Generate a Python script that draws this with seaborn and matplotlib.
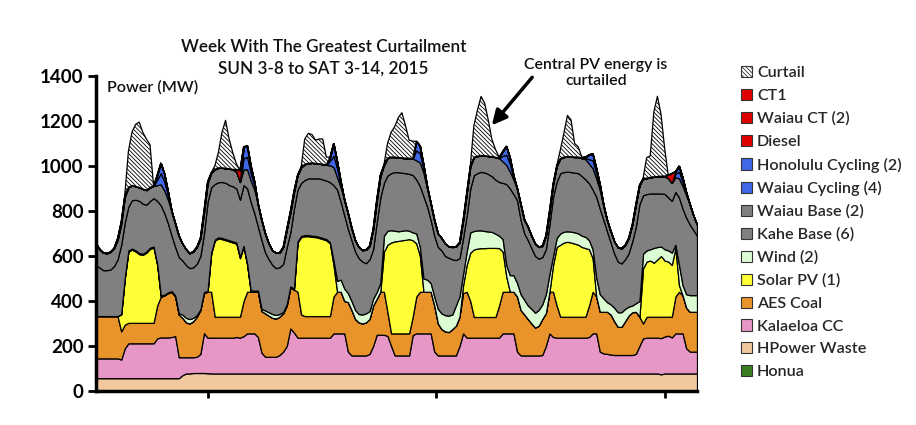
import numpy as np
import pandas as pd
import seaborn as sns
from matplotlib import pyplot as plt
from matplotlib.patches import Patch

# Hourly generation (MW), Sun 3-8 00:00 to Sat 3-14 23:00, one row per day
honua = [0] * 168

hpower_waste = [
    57, 57, 57, 57, 57, 57, 57, 57, 57, 57, 57, 57, 57, 57, 57, 57, 57, 57, 57, 57, 57, 57, 57, 57,
    70, 78, 78, 80, 80, 80, 80, 79, 78, 78, 78, 78, 78, 78, 78, 78, 78, 78, 78, 78, 78, 78, 78, 78,
    78, 78, 78, 78, 78, 78, 78, 78, 78, 78, 78, 78, 78, 78, 78, 78, 78, 78, 78, 78, 78, 78, 78, 78,
    78, 78, 78, 78, 78, 78, 78, 78, 78, 78, 78, 78, 78, 78, 78, 78, 78, 78, 78, 78, 78, 78, 78, 78,
    78, 78, 78, 78, 78, 78, 78, 78, 78, 78, 78, 78, 78, 78, 78, 78, 78, 78, 78, 78, 78, 78, 78, 78,
    78, 78, 78, 78, 78, 78, 78, 78, 78, 78, 78, 78, 78, 78, 78, 78, 78, 78, 78, 78, 78, 78, 78, 78,
    78, 78, 78, 78, 78, 78, 78, 78, 78, 78, 78, 78, 78, 74, 78, 78, 78, 78, 78, 78, 78, 78, 78, 78,
]

kalaeloa_cc = [
    88, 88, 88, 88, 88, 88, 88, 83, 133, 155, 155, 155, 155, 155, 155, 155, 155, 177, 181, 181, 181, 183, 187, 93,
    80, 72, 72, 70, 72, 85, 177, 158, 159, 159, 159, 159, 159, 159, 159, 162, 159, 166, 178, 178, 178, 162, 92, 74,
    74, 74, 74, 82, 97, 122, 200, 182, 159, 159, 159, 159, 159, 159, 159, 159, 159, 159, 178, 178, 178, 178, 97, 80,
    80, 80, 80, 80, 87, 122, 172, 172, 172, 167, 122, 80, 80, 80, 80, 80, 171, 178, 178, 178, 178, 178, 97, 80,
    80, 80, 80, 80, 80, 122, 178, 159, 159, 159, 159, 159, 159, 159, 159, 159, 159, 178, 178, 178, 178, 97, 80, 80,
    80, 80, 80, 80, 82, 122, 178, 162, 159, 159, 159, 159, 159, 159, 159, 159, 159, 162, 178, 178, 97, 89, 87, 84,
    82, 82, 82, 82, 82, 82, 87, 122, 156, 159, 159, 159, 159, 161, 164, 168, 160, 178, 178, 178, 112, 97, 97, 97,
]

aes_coal = [
    188, 188, 188, 188, 188, 188, 188, 125, 105, 91, 91, 91, 91, 91, 91, 91, 91, 146, 181, 187, 197, 201, 176, 190,
    175, 155, 150, 160, 178, 195, 180, 204, 204, 93, 93, 93, 93, 93, 93, 90, 93, 156, 185, 185, 185, 201, 185, 193,
    183, 173, 170, 170, 170, 180, 182, 190, 204, 103, 96, 96, 96, 96, 96, 96, 96, 96, 164, 185, 185, 144, 220, 202,
    162, 147, 142, 147, 155, 180, 160, 191, 191, 105, 56, 98, 98, 98, 98, 98, 81, 164, 185, 185, 185, 185, 205, 142,
    117, 107, 104, 117, 132, 130, 179, 204, 163, 92, 92, 92, 92, 92, 92, 92, 143, 185, 185, 185, 185, 245, 202, 182,
    162, 142, 124, 132, 160, 146, 185, 201, 143, 93, 93, 93, 93, 93, 93, 93, 93, 140, 185, 164, 177, 185, 187, 178,
    150, 125, 125, 150, 175, 190, 187, 130, 66, 93, 93, 93, 93, 95, 88, 84, 92, 164, 185, 169, 180, 177, 177, 177,
]

solar_pv = [
    0, 0, 0, 0, 0, 0, 0, 75, 205, 317, 325, 317, 305, 302, 312, 329, 334, 180, 0, 0, 0, 0, 0, 0,
    0, 0, 0, 0, 0, 0, 0, 0, 169, 338, 348, 345, 340, 335, 330, 325, 260, 240, 119, 0, 0, 0, 0, 0,
    0, 0, 0, 0, 0, 0, 0, 0, 219, 344, 355, 355, 352, 351, 347, 342, 337, 323, 140, 0, 0, 0, 0, 0,
    0, 0, 0, 0, 0, 0, 0, 0, 179, 300, 404, 409, 411, 414, 416, 419, 340, 236, 159, 0, 0, 0, 0, 0,
    0, 0, 0, 0, 0, 0, 35, 119, 215, 300, 304, 306, 306, 307, 307, 307, 255, 179, 69, 0, 0, 0, 0, 0,
    0, 0, 0, 0, 0, 0, 0, 119, 260, 320, 330, 333, 330, 325, 320, 310, 305, 250, 149, 0, 0, 0, 0, 0,
    0, 0, 0, 0, 0, 0, 0, 0, 245, 245, 250, 240, 255, 270, 250, 245, 230, 215, 29, 0, 0, 0, 0, 0,
]

wind = [
    0, 0, 0, 0, 0, 0, 0, 2, 5, 5, 5, 5, 5, 5, 5, 5, 5, 5, 5, 3, 3, 3, 5, 5,
    15, 20, 20, 15, 7, 3, 3, 3, 5, 5, 5, 5, 5, 5, 5, 5, 5, 5, 5, 5, 5, 5, 10, 13,
    15, 17, 16, 12, 7, 5, 5, 5, 5, 5, 5, 5, 5, 5, 5, 5, 5, 5, 20, 49, 54, 55, 40, 40,
    40, 37, 40, 40, 35, 30, 30, 39, 70, 62, 55, 47, 43, 42, 43, 37, 35, 44, 40, 59, 54, 39, 40, 65,
    70, 72, 73, 65, 90, 90, 50, 60, 90, 82, 81, 79, 76, 73, 71, 63, 55, 55, 50, 74, 74, 60, 70, 65,
    60, 65, 66, 70, 65, 84, 79, 40, 40, 50, 48, 47, 48, 50, 50, 50, 50, 40, 40, 85, 78, 60, 43, 45,
    60, 65, 65, 55, 40, 30, 38, 70, 65, 50, 50, 66, 55, 42, 50, 50, 55, 15, 90, 45, 60, 74, 74, 74,
]

kahe_base = [
    227, 215, 204, 204, 207, 222, 252, 308, 245, 195, 215, 225, 232, 222, 208, 208, 215, 280, 401, 362, 307, 246, 215, 250,
    240, 235, 226, 225, 228, 237, 260, 396, 290, 247, 245, 249, 250, 245, 245, 240, 255, 270, 335, 394, 344, 284, 305, 257,
    235, 218, 208, 208, 213, 255, 240, 355, 230, 236, 245, 252, 255, 256, 260, 260, 260, 267, 335, 405, 345, 325, 285, 270,
    260, 248, 235, 223, 230, 220, 310, 380, 235, 246, 253, 261, 262, 258, 253, 253, 255, 240, 270, 365, 325, 280, 270, 275,
    280, 263, 257, 245, 202, 170, 160, 160, 195, 248, 255, 260, 260, 255, 247, 240, 239, 250, 360, 385, 360, 368, 330, 295,
    290, 270, 252, 228, 210, 200, 220, 263, 250, 268, 265, 265, 265, 265, 268, 265, 255, 253, 265, 358, 380, 348, 315, 275,
    240, 225, 217, 220, 237, 285, 340, 430, 260, 250, 248, 242, 238, 236, 246, 235, 230, 235, 300, 340, 340, 314, 289, 264,
]

waiau_base = [
    95, 82, 78, 75, 78, 80, 85, 90, 110, 85, 66, 60, 60, 66, 65, 60, 55, 70, 93, 100, 105, 110, 105, 95,
    75, 70, 66, 70, 75, 80, 90, 80, 65, 65, 64, 63, 65, 73, 75, 75, 79, 70, 85, 95, 105, 100, 90, 85,
    70, 65, 68, 65, 75, 80, 85, 70, 65, 70, 70, 67, 69, 67, 65, 68, 70, 75, 80, 55, 65, 70, 70, 55,
    50, 50, 51, 60, 60, 90, 90, 90, 80, 77, 72, 67, 66, 66, 67, 70, 73, 85, 105, 105, 80, 75, 70, 60,
    55, 55, 50, 55, 60, 70, 80, 100, 100, 80, 75, 73, 75, 80, 88, 100, 106, 95, 85, 75, 65, 52, 70, 60,
    60, 55, 55, 52, 50, 60, 60, 57, 70, 65, 67, 67, 68, 70, 72, 80, 90, 87, 95, 82, 83, 60, 50, 50,
    55, 63, 67, 63, 68, 75, 100, 85, 74, 71, 72, 74, 75, 77, 79, 85, 80, 65, 85, 100, 100, 90, 65, 50,
]

waiau_cycling = [
    0, 0, 0, 0, 0, 0, 8, 12, 10, 0, 0, 0, 0, 0, 0, 0, 0, 25, 50, 40, 20, 0, 0, 0,
    0, 0, 0, 0, 0, 0, 10, 10, 0, 0, 0, 0, 0, 0, 0, 0, 0, 50, 55, 35, 20, 0, 0, 0,
    0, 0, 0, 0, 0, 0, 8, 8, 0, 0, 0, 0, 0, 0, 0, 0, 0, 20, 50, 40, 15, 0, 0, 0,
    0, 0, 0, 0, 0, 0, 10, 10, 0, 0, 0, 0, 0, 0, 0, 0, 0, 45, 40, 20, 5, 0, 0, 0,
    0, 0, 0, 0, 0, 0, 0, 0, 0, 0, 0, 0, 0, 0, 0, 0, 0, 25, 45, 35, 10, 0, 0, 0,
    0, 0, 0, 0, 0, 0, 0, 0, 0, 0, 0, 0, 0, 0, 0, 0, 5, 20, 35, 25, 15, 5, 0, 0,
    0, 0, 0, 0, 0, 0, 0, 0, 0, 0, 0, 0, 0, 0, 0, 0, 0, 15, 30, 20, 8, 0, 0, 0,
]

honolulu_cycling = [
    0, 0, 0, 0, 0, 0, 0, 0, 0, 0, 0, 0, 0, 0, 0, 0, 0, 20, 45, 35, 15, 0, 0, 0,
    0, 0, 0, 0, 0, 0, 0, 0, 0, 0, 0, 0, 0, 0, 0, 0, 0, 50, 50, 30, 15, 0, 0, 0,
    0, 0, 0, 0, 0, 0, 0, 0, 0, 0, 0, 0, 0, 0, 0, 0, 0, 15, 55, 30, 10, 0, 0, 0,
    0, 0, 0, 0, 0, 0, 0, 0, 0, 0, 0, 0, 0, 0, 0, 0, 0, 40, 35, 15, 5, 0, 0, 0,
    0, 0, 0, 0, 0, 0, 0, 0, 0, 0, 0, 0, 0, 0, 0, 0, 0, 20, 38, 27, 8, 0, 0, 0,
    0, 0, 0, 0, 0, 0, 0, 0, 0, 0, 0, 0, 0, 0, 0, 0, 5, 20, 30, 20, 10, 3, 0, 0,
    0, 0, 0, 0, 0, 0, 0, 0, 0, 0, 0, 0, 0, 0, 0, 0, 0, 10, 25, 18, 5, 0, 0, 0,
]

diesel = [0] * 168

waiau_ct = [
    0, 0, 0, 0, 0, 0, 0, 0, 0, 0, 0, 0, 0, 0, 0, 0, 0, 0, 0, 0, 0, 0, 0, 0,
    0, 0, 0, 0, 0, 0, 0, 0, 0, 0, 0, 0, 0, 0, 0, 10, 52, 0, 0, 0, 0, 0, 0, 0,
] + [0] * 120

ct1 = [0] * 144 + [
    0, 0, 0, 0, 0, 0, 0, 0, 0, 0, 0, 0, 0, 0, 0, 15, 42, 0, 0, 0, 0, 0, 0, 0,
]

curtail = [
    0, 0, 0, 0, 0, 0, 0, 0, 0, 160, 236, 275, 290, 252, 227, 190, 0, 0, 0, 0, 0, 0, 0, 0,
    0, 0, 0, 0, 0, 0, 0, 0, 0, 15, 68, 158, 213, 132, 75, 25, 0, 0, 0, 0, 0, 0, 0, 0,
    0, 0, 0, 0, 0, 0, 0, 0, 0, 0, 112, 133, 126, 103, 110, 112, 35, 0, 0, 0, 0, 0, 0, 0,
    0, 0, 0, 0, 0, 0, 0, 0, 0, 65, 110, 135, 177, 201, 145, 80, 77, 0, 0, 0, 0, 0, 0, 0,
    0, 0, 0, 0, 0, 0, 0, 0, 0, 140, 205, 262, 233, 160, 77, 35, 5, 0, 0, 0, 0, 0, 0, 0,
    0, 0, 0, 0, 0, 0, 0, 0, 0, 37, 105, 183, 164, 60, 45, 5, 0, 0, 0, 0, 0, 0, 0, 0,
    0, 0, 0, 0, 0, 0, 0, 0, 0, 91, 95, 288, 357, 275, 125, 0, 0, 0, 0, 0, 0, 0, 0, 0,
]

hours = np.arange(168)

# stacking order, bottom to top
layers = [
    ('Honua', honua, '#3a7d23'),
    ('HPower Waste', hpower_waste, '#f2c99e'),
    ('Kalaeloa CC', kalaeloa_cc, '#e797c6'),
    ('AES Coal', aes_coal, '#e8942a'),
    ('Solar PV (1)', solar_pv, '#ffff38'),
    ('Wind (2)', wind, '#dcfdd4'),
    ('Kahe Base (6)', kahe_base, '#808080'),
    ('Waiau Base (2)', waiau_base, '#808080'),
    ('Waiau Cycling (4)', waiau_cycling, '#3f67e6'),
    ('Honolulu Cycling (2)', honolulu_cycling, '#3f67e6'),
    ('Diesel', diesel, '#e00000'),
    ('Waiau CT (2)', waiau_ct, '#e00000'),
    ('CT1', ct1, '#e00000'),
    ('Curtail', curtail, '#ffffff'),
]
df = pd.DataFrame({name: vals for name, vals, _ in layers}, index=hours)
colors = [c for _, _, c in layers]
HATCH = '\\\\\\\\\\\\\\\\'

sns.set_theme(style='white')
plt.rcParams['font.family'] = ['Lato', 'DejaVu Sans']
plt.rcParams['hatch.linewidth'] = 0.6
plt.rcParams['hatch.color'] = 'black'

fig = plt.figure(figsize=(9.16, 4.25), dpi=100)
ax = fig.add_axes([96 / 916, 34 / 425, 601 / 916, 315 / 425])

polys = ax.stackplot(df.index, df.T.values, colors=colors,
                     edgecolor='black', linewidth=0.9)
polys[-1].set_hatch(HATCH)

ax.set_xlim(0, 167)
ax.set_ylim(0, 1400)
ax.set_yticks(range(0, 1401, 200))
ax.set_yticklabels([str(v) for v in range(0, 1401, 200)], fontsize=13.5, fontweight='bold')
ax.set_xticks([31, 94.5, 158])
ax.set_xticklabels([])
ax.tick_params(axis='y', left=True, direction='out', length=6, width=2, pad=3, colors='black')
ax.tick_params(axis='x', bottom=True, direction='out', length=5, width=2, colors='black')
sns.despine(ax=ax)
for side in ['left', 'bottom']:
    ax.spines[side].set_linewidth(2.5)
    ax.spines[side].set_color('black')

txt = dict(fontweight='semibold', color='#111111')
fig.text(0.353, 1 - 47 / 425, 'Week With The Greatest Curtailment', ha='center', va='center', fontsize=12.3, **txt)
fig.text(0.353, 1 - 69 / 425, 'SUN 3-8 to SAT 3-14, 2015', ha='center', va='center', fontsize=12.3, **txt)
fig.text(107 / 916, 1 - 87 / 425, 'Power (MW)', ha='left', va='center', fontsize=11.6, **txt)

fig.text(596 / 916, 1 - 73 / 425, 'Central PV energy is\ncurtailed', ha='center', va='center',
         fontsize=11.4, multialignment='center', linespacing=1.25, **txt)
ax.annotate('', xy=(110, 1181), xytext=(121.2, 1394),
            arrowprops=dict(arrowstyle='-|>', color='black', lw=2.5, mutation_scale=22,
                            shrinkA=0, shrinkB=0))

# legend, top to bottom is the reverse of the stack
handles = []
for name, _, c in reversed(layers):
    hatch = HATCH if name == 'Curtail' else None
    handles.append(Patch(facecolor=c, edgecolor='#333333', hatch=hatch, label=name, linewidth=0.8))
fig.legend(handles=handles, loc='upper left', bbox_to_anchor=(741 / 916, 1 - 66 / 425),
           frameon=False, handlelength=0.7, handleheight=0.7,
           handletextpad=0.3, labelspacing=0.53, borderaxespad=0, borderpad=0,
           prop=dict(family=['Lato', 'DejaVu Sans'], size=11.6, weight='semibold'))

fig.savefig('out.png', dpi=100)
